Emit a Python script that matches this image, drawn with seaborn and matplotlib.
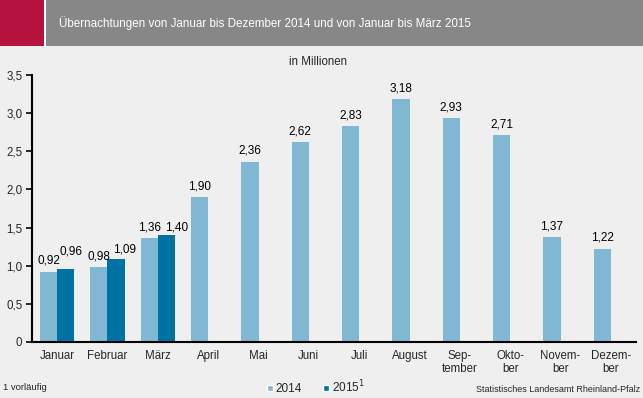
import numpy as np
import pandas as pd
import matplotlib
matplotlib.use("Agg")
import matplotlib.pyplot as plt
from matplotlib.patches import Rectangle, Patch
import seaborn as sns

# data (millions of overnight stays)
months = ["Januar", "Februar", "März", "April", "Mai", "Juni", "Juli", "August",
          "Sep-\ntember", "Okto-\nber", "Novem-\nber", "Dezem-\nber"]
v2014 = [0.92, 0.98, 1.36, 1.90, 2.36, 2.62, 2.83, 3.18, 2.93, 2.71, 1.37, 1.22]
v2015 = [0.96, 1.09, 1.40, None, None, None, None, None, None, None, None, None]
yticks = [0, 0.5, 1.0, 1.5, 2.0, 2.5, 3.0, 3.5]

bg = "#EEEFEE"
c14 = "#80B7D3"
c15 = "#0072A3"

sns.set_style("white")
plt.rcParams["font.family"] = ["Liberation Sans", "DejaVu Sans"]

df = pd.DataFrame({
    "Monat": months * 2,
    "Jahr": ["2014"] * 12 + ["2015"] * 12,
    "Wert": v2014 + [np.nan if v is None else v for v in v2015],
})

fig = plt.figure(figsize=(6.43, 3.98), dpi=100, facecolor=bg)
ax = fig.add_axes([32 / 643, 56 / 398, 604 / 643, 267 / 398])
ax.set_facecolor(bg)

sns.barplot(data=df, x="Monat", y="Wert", hue="Jahr", order=months,
            hue_order=["2014", "2015"], palette=[c14, c15], width=0.68,
            saturation=1, ax=ax, legend=False, errorbar=None, linewidth=0)

# value labels; the 2015 ones are nudged so they do not sit on the 2014 ones
nudge15 = [(5, 17), (8, 9), (10, 8)]
for k, cont in enumerate(ax.containers):
    for i, b in enumerate(cont):
        h = b.get_height()
        if np.isnan(h):
            continue
        dx, dy = (0, 11) if k == 0 else nudge15[i]
        ax.annotate(f"{h:.2f}".replace(".", ","), (b.get_x() + b.get_width() / 2, h),
                    xytext=(dx, dy), textcoords="offset pixels",
                    ha="center", va="center", fontsize=8.5, color="black")

ax.set_ylim(0, 3.5)
ax.set_xlim(-0.5, 11.5)
ax.set_yticks(yticks)
ax.set_yticklabels([f"{t:.1f}".replace(".", ",") if t else "0" for t in yticks], fontsize=8.3)
ax.set_xticks(range(12))
ax.set_xticklabels(months, fontsize=8.3, linespacing=1.1, va="top")
ax.set_xticks(np.arange(-0.5, 12, 1), minor=True)
ax.tick_params(axis="x", which="major", length=0, pad=6)
ax.tick_params(axis="x", which="minor", length=4, width=1.2, color="black", direction="out")
ax.tick_params(axis="y", length=4, width=1.2, color="black", direction="out", left=True, pad=3)
ax.set_xlabel("")
ax.set_ylabel("")
for s in ["top", "right"]:
    ax.spines[s].set_visible(False)
for s in ["left", "bottom"]:
    ax.spines[s].set_color("black")
    ax.spines[s].set_linewidth(1.5)

# header band
fig.patches.append(Rectangle((0, 1 - 46 / 398), 1, 46 / 398, transform=fig.transFigure,
                             facecolor="#878787", edgecolor="none", zorder=0))
fig.patches.append(Rectangle((0, 1 - 46 / 398), 44 / 643, 46 / 398, transform=fig.transFigure,
                             facecolor="#B5123E", edgecolor="none", zorder=1))
fig.patches.append(Rectangle((44 / 643, 1 - 46 / 398), 1.5 / 643, 46 / 398, transform=fig.transFigure,
                             facecolor="white", edgecolor="none", zorder=1))
fig.text(59 / 643, 1 - 23 / 398, "Übernachtungen von Januar bis Dezember 2014 und von Januar bis März 2015",
         color="white", fontsize=8.4, va="center", ha="left")

fig.text(318 / 643, 1 - 62 / 398, "in Millionen", fontsize=8.3, va="center", ha="center")

# footer
fig.text(3 / 643, 1 - 388 / 398, "1 vorläufig", fontsize=6.8, va="center", ha="left")
fig.text(640 / 643, 1 - 389 / 398, "Statistisches Landesamt Rheinland-Pfalz", fontsize=6.5,
         va="center", ha="right")
handles = [Patch(facecolor=c14, label="2014"), Patch(facecolor=c15, label="2015$^1$")]
fig.legend(handles=handles, loc="center", bbox_to_anchor=(316 / 643, 1 - 387 / 398),
           ncol=2, frameon=False, fontsize=8.5, handlelength=0.5, handleheight=0.5,
           handletextpad=0.25, columnspacing=1.8)

fig.savefig("out.png", dpi=100, facecolor=bg)
